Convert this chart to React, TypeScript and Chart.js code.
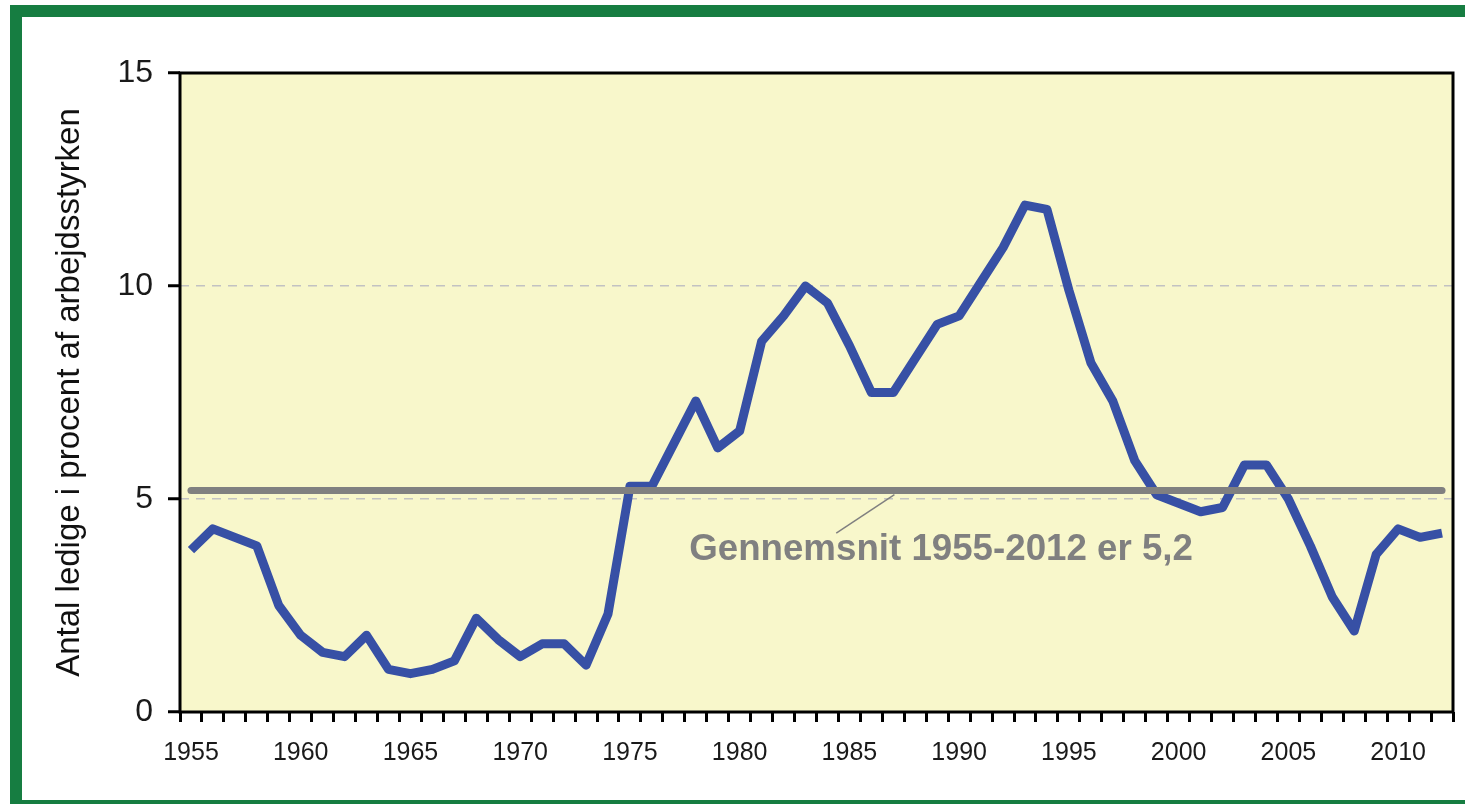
import React, { useEffect, useRef } from 'react';
import { Chart, registerables } from 'chart.js';

Chart.register(...registerables);

const years = [
  '1955', '1956', '1957', '1958', '1959', '1960', '1961', '1962', '1963', '1964',
  '1965', '1966', '1967', '1968', '1969', '1970', '1971', '1972', '1973', '1974',
  '1975', '1976', '1977', '1978', '1979', '1980', '1981', '1982', '1983', '1984',
  '1985', '1986', '1987', '1988', '1989', '1990', '1991', '1992', '1993', '1994',
  '1995', '1996', '1997', '1998', '1999', '2000', '2001', '2002', '2003', '2004',
  '2005', '2006', '2007', '2008', '2009', '2010', '2011', '2012',
];

const unemployment = [
  3.8, 4.3, 4.1, 3.9, 2.5, 1.8, 1.4, 1.3, 1.8, 1.0,
  0.9, 1.0, 1.2, 2.2, 1.7, 1.3, 1.6, 1.6, 1.1, 2.3,
  5.3, 5.3, 6.3, 7.3, 6.2, 6.6, 8.7, 9.3, 10.0, 9.6,
  8.6, 7.5, 7.5, 8.3, 9.1, 9.3, 10.1, 10.9, 11.9, 11.8,
  9.9, 8.2, 7.3, 5.9, 5.1, 4.9, 4.7, 4.8, 5.8, 5.8,
  5.0, 3.9, 2.7, 1.9, 3.7, 4.3, 4.1, 4.2,
];

const average = 5.2;
const averageSeries = years.map(() => average);

const labeledYears = ['1955', '1960', '1965', '1970', '1975', '1980', '1985', '1990', '1995', '2000', '2005', '2010'];
const yTicks = [0, 5, 10, 15];

const yTitle = 'Antal ledige i procent af arbejdsstyrken';
const annotationText = 'Gennemsnit 1955-2012 er 5,2';
// annotation anchors in data terms (year, value)
const annotationTextAt = [1977.7, 3.57];
const leaderFrom = [1984.4, 4.2];
const leaderTo = [1987.05, 5.1];

const FONT = '"Liberation Sans", Arial, Helvetica, sans-serif';

const decorations = {
  id: 'decorations',
  beforeDraw(chart: any) {
    const { ctx, chartArea: a, width, height } = chart;
    ctx.save();
    ctx.fillStyle = '#ffffff';
    ctx.fillRect(0, 0, width, height);
    ctx.strokeStyle = '#167D41';
    ctx.lineWidth = 12;
    ctx.strokeRect(16, 11, width + 40, 795);
    ctx.fillStyle = '#F8F7CB';
    ctx.fillRect(a.left, a.top, a.right - a.left, a.bottom - a.top);
    ctx.restore();
  },
  afterDatasetsDraw(chart: any) {
    const { ctx } = chart;
    const xs = chart.scales.x;
    const ys = chart.scales.y;
    const first = Number(years[0]);
    const px = (yr: number) => xs.getPixelForValue(yr - first);
    ctx.save();
    ctx.strokeStyle = '#808080';
    ctx.lineWidth = 1.5;
    ctx.beginPath();
    ctx.moveTo(px(leaderFrom[0]), ys.getPixelForValue(leaderFrom[1]));
    ctx.lineTo(px(leaderTo[0]), ys.getPixelForValue(leaderTo[1]));
    ctx.stroke();
    ctx.fillStyle = '#808080';
    ctx.font = `bold 36.7px ${FONT}`;
    ctx.textAlign = 'left';
    ctx.textBaseline = 'alphabetic';
    ctx.fillText(annotationText, px(annotationTextAt[0]), ys.getPixelForValue(annotationTextAt[1]));
    ctx.restore();
  },
  afterDraw(chart: any) {
    const { ctx, chartArea: a } = chart;
    ctx.save();
    ctx.strokeStyle = '#000000';
    ctx.lineWidth = 3;
    ctx.strokeRect(a.left, a.top, a.right - a.left, a.bottom - a.top);
    ctx.restore();
  },
};

export default function App() {
  const canvasRef = useRef<HTMLCanvasElement | null>(null);

  useEffect(() => {
    if (!canvasRef.current) return;
    const chart = new Chart(canvasRef.current, {
      type: 'line',
      data: {
        labels: years,
        datasets: [
          {
            label: 'Gennemsnit',
            data: averageSeries,
            borderColor: '#808080',
            borderWidth: 7,
            borderCapStyle: 'round',
            pointRadius: 0,
            tension: 0,
          },
          {
            label: 'Ledighed',
            data: unemployment,
            borderColor: '#3750A5',
            borderWidth: 9,
            borderJoinStyle: 'round',
            borderCapStyle: 'butt',
            pointRadius: 0,
            tension: 0,
          },
        ],
      },
      options: {
        responsive: false,
        animation: false,
        events: [],
        layout: { padding: { left: 0, top: 73, right: 12, bottom: 0 } },
        plugins: {
          legend: { display: false },
          tooltip: { enabled: false },
        },
        scales: {
          x: {
            type: 'category',
            offset: true,
            afterFit: (s: any) => { s.height = 92; },
            grid: {
              offset: true,
              drawOnChartArea: false,
              drawTicks: true,
              tickLength: 10,
              tickColor: '#000000',
              tickWidth: 3,
            },
            border: { display: false },
            ticks: {
              autoSkip: false,
              maxRotation: 0,
              minRotation: 0,
              padding: 16,
              color: '#1a1a1a',
              font: { family: FONT, size: 25 },
              callback: (_v: any, i: number) => (labeledYears.includes(years[i]) ? years[i] : ''),
            },
          },
          y: {
            min: 0,
            max: 15,
            afterFit: (s: any) => { s.width = 180; },
            afterBuildTicks: (s: any) => { s.ticks = yTicks.map((v) => ({ value: v })); },
            grid: {
              color: (c: any) => (c.tick && (c.tick.value === 5 || c.tick.value === 10) ? '#C2C2C2' : 'rgba(0,0,0,0)'),
              lineWidth: 1.5,
              drawTicks: true,
              tickLength: 12,
              tickColor: '#000000',
              tickWidth: 3,
              tickBorderDash: [],
            },
            border: { display: false, dash: [9, 7] },
            ticks: {
              padding: 15,
              color: '#1a1a1a',
              font: { family: FONT, size: 32 },
            },
            title: {
              display: true,
              text: yTitle,
              color: '#111111',
              font: { family: FONT, size: 33 },
              padding: { top: 50, bottom: 0 },
            },
          },
        },
      },
      plugins: [decorations],
    });
    return () => chart.destroy();
  }, []);

  return (
    <div style={{ position: 'absolute', left: 0, top: 0, width: 1465, height: 804 }}>
      <canvas ref={canvasRef} width={1465} height={804} style={{ display: 'block' }} />
    </div>
  );
}
